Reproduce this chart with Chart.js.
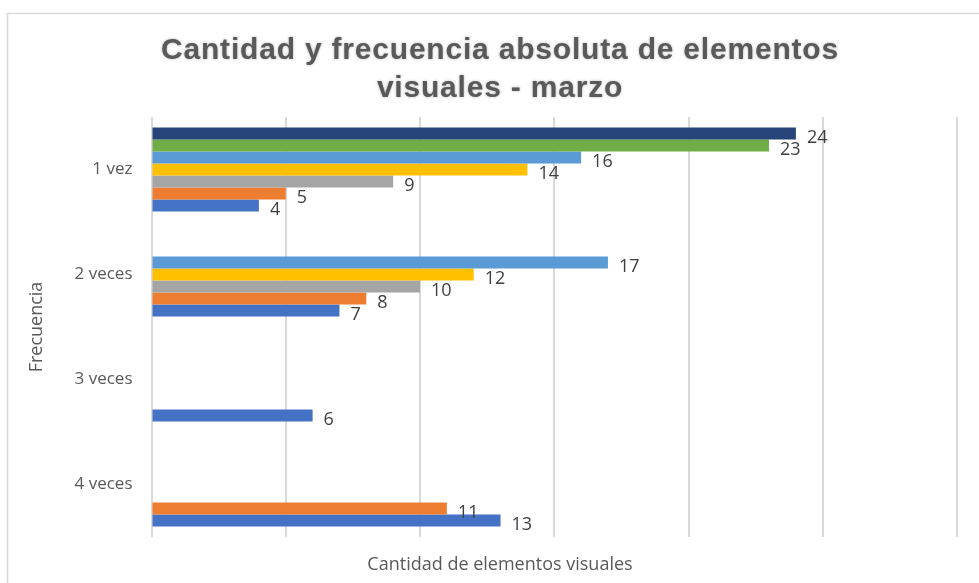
<!DOCTYPE html>
<html>
<head>
<meta charset="utf-8">
<script src="https://cdn.jsdelivr.net/npm/chart.js"></script>
<style>
  html, body { margin: 0; padding: 0; background: #fff; overflow: hidden; }
  #wrap { width: 979px; height: 583px; position: relative; }
</style>
</head>
<body>
<div id="wrap"><canvas id="chart" width="979" height="583"></canvas></div>
<script>
// Categories (frecuencia) and series values
const categories = ['1 vez', '2 veces', '3 veces', '4 veces'];
const serie1 = [4, 7, 6, 13];
const serie2 = [5, 8, null, 11];
const serie3 = [9, 10, null, null];
const serie4 = [14, 12, null, null];
const serie5 = [16, 17, null, null];
const serie6 = [23, null, null, null];
const serie7 = [24, null, null, null];
const xTicks = [0, 5, 10, 15, 20, 25, 30];

const chartTitle = ['Cantidad y frecuencia absoluta de elementos', 'visuales - marzo'];
const xTitle = 'Cantidad de elementos visuales';
const yTitle = 'Frecuencia';

const textFont = '"Open Sans", "Liberation Sans", sans-serif';

// Excel draws series 1 at the bottom of each group, so the list goes top-down
const seriesList = [
    { label: 'Serie 7', data: serie7, color: '#264478' },
    { label: 'Serie 6', data: serie6, color: '#70AD47' },
    { label: 'Serie 5', data: serie5, color: '#5B9BD5' },
    { label: 'Serie 4', data: serie4, color: '#FFC000' },
    { label: 'Serie 3', data: serie3, color: '#A5A5A5' },
    { label: 'Serie 2', data: serie2, color: '#ED7D31' },
    { label: 'Serie 1', data: serie1, color: '#4472C4' }
];

// frame, chart title, x-axis title and value labels
const decorations = {
    id: 'decorations',
    beforeDraw(chart) {
        const ctx = chart.ctx;
        ctx.save();
        ctx.strokeStyle = '#d9d9d9';
        ctx.lineWidth = 1.5;
        ctx.strokeRect(7.5, 13.5, chart.width + 20, chart.height + 20);
        ctx.restore();
    },
    afterDatasetsDraw(chart) {
        const ctx = chart.ctx;
        ctx.save();
        ctx.font = '18px ' + textFont;
        ctx.fillStyle = '#404040';
        ctx.textAlign = 'left';
        ctx.textBaseline = 'middle';
        chart.data.datasets.forEach((ds, i) => {
            const meta = chart.getDatasetMeta(i);
            meta.data.forEach((bar, j) => {
                const v = ds.data[j];
                if (v === null || v === undefined) return;
                ctx.fillText(String(v), bar.x + 11, bar.y + 4);
            });
        });
        ctx.restore();
    },
    afterDraw(chart) {
        const ctx = chart.ctx;
        const cx = 500;
        ctx.save();
        ctx.textAlign = 'center';
        ctx.textBaseline = 'middle';
        ctx.fillStyle = '#595959';
        ctx.font = 'bold 30px "Liberation Sans", Arial, sans-serif';
        ctx.letterSpacing = '0.8px';
        ctx.shadowColor = 'rgba(0,0,0,0.3)';
        ctx.shadowBlur = 3;
        chartTitle.forEach((line, i) => {
            ctx.fillText(line, cx, 51 + i * 38);
        });
        ctx.letterSpacing = '0px';
        ctx.shadowBlur = 0;
        ctx.shadowColor = 'transparent';
        ctx.font = '18px ' + textFont;
        ctx.fillText(xTitle, cx, 565);
        ctx.restore();
    }
};

const ctx = document.getElementById('chart').getContext('2d');
new Chart(ctx, {
    type: 'bar',
    data: {
        labels: categories,
        datasets: seriesList.map(s => ({
            label: s.label,
            data: s.data,
            backgroundColor: s.color,
            borderWidth: 0,
            categoryPercentage: 0.8,
            barPercentage: 1.0
        }))
    },
    options: {
        indexAxis: 'y',
        responsive: false,
        animation: false,
        layout: {
            padding: { top: 117, left: 8, right: 22, bottom: 46 }
        },
        scales: {
            x: {
                min: 0,
                max: 30,
                afterBuildTicks: axis => {
                    axis.ticks = xTicks.map(v => ({ value: v }));
                },
                ticks: { display: false },
                grid: { color: '#d9d9d9', lineWidth: 2, drawTicks: false },
                border: { display: false }
            },
            y: {
                afterFit: scale => { scale.width = 143.5; },
                ticks: {
                    color: '#595959',
                    padding: 19,
                    font: { family: textFont, size: 17 }
                },
                grid: { display: false, drawTicks: false },
                border: { display: false },
                title: {
                    display: true,
                    text: yTitle,
                    color: '#595959',
                    padding: { top: 18, bottom: 0 },
                    font: { family: textFont, size: 18 }
                }
            }
        },
        plugins: {
            legend: { display: false },
            tooltip: { enabled: false },
            title: { display: false }
        }
    },
    plugins: [decorations]
});
</script>
</body>
</html>
